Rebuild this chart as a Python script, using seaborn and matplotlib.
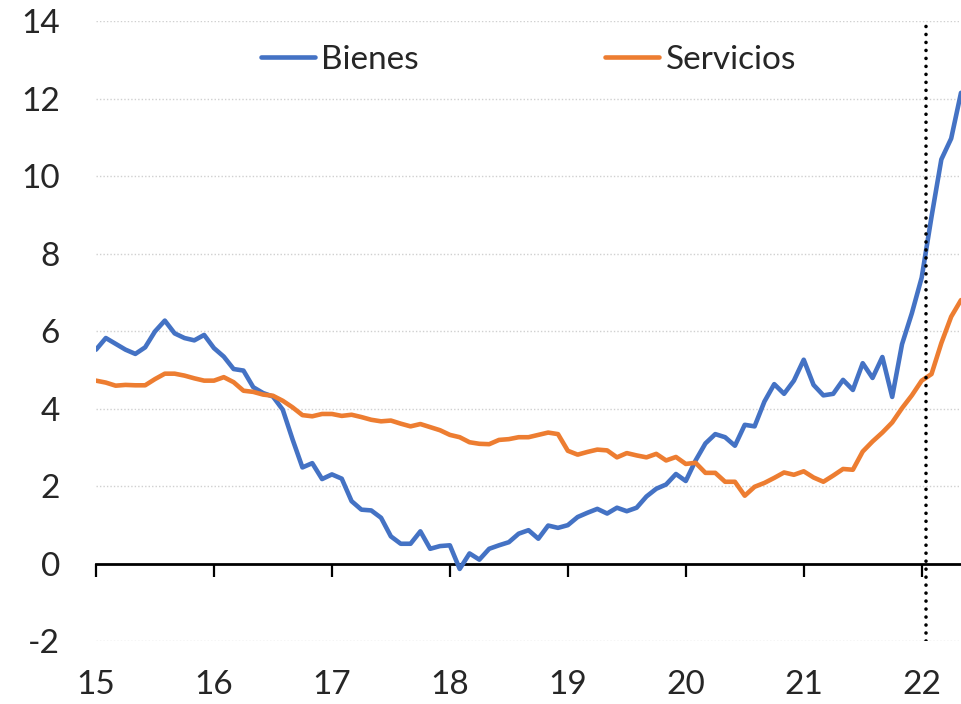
import pandas as pd
import numpy as np
import matplotlib
matplotlib.use("Agg")
import matplotlib.pyplot as plt
import seaborn as sns

# monthly, Jan 2015 .. May 2022
bienes = [5.52, 5.82, 5.67, 5.52, 5.41, 5.58, 5.99, 6.27, 5.94, 5.82, 5.76, 5.90,
          5.56, 5.34, 5.02, 4.98, 4.55, 4.40, 4.31, 3.97, 3.20, 2.48, 2.59, 2.18,
          2.30, 2.19, 1.61, 1.39, 1.37, 1.18, 0.70, 0.51, 0.51, 0.83, 0.38, 0.45,
          0.47, -0.14, 0.26, 0.10, 0.38, 0.47, 0.55, 0.77, 0.86, 0.64, 0.98, 0.92,
          0.99, 1.20, 1.31, 1.41, 1.29, 1.44, 1.35, 1.44, 1.73, 1.93, 2.04, 2.31,
          2.13, 2.66, 3.10, 3.34, 3.26, 3.04, 3.58, 3.54, 4.18, 4.63, 4.38, 4.72,
          5.26, 4.61, 4.34, 4.38, 4.74, 4.48, 5.17, 4.79, 5.33, 4.30, 5.66, 6.46,
          7.38, 8.95, 10.43, 10.97, 12.15]
servicios = [4.72, 4.67, 4.59, 4.61, 4.60, 4.60, 4.76, 4.90, 4.90, 4.85, 4.78, 4.72,
             4.72, 4.81, 4.68, 4.46, 4.43, 4.36, 4.33, 4.20, 4.03, 3.83, 3.80, 3.86,
             3.86, 3.81, 3.84, 3.78, 3.71, 3.67, 3.69, 3.61, 3.54, 3.60, 3.52, 3.44,
             3.32, 3.26, 3.13, 3.09, 3.08, 3.19, 3.21, 3.26, 3.26, 3.32, 3.38, 3.34,
             2.91, 2.81, 2.88, 2.94, 2.92, 2.74, 2.85, 2.79, 2.74, 2.83, 2.66, 2.75,
             2.57, 2.60, 2.34, 2.34, 2.11, 2.11, 1.75, 1.98, 2.08, 2.21, 2.35, 2.29,
             2.38, 2.22, 2.11, 2.27, 2.44, 2.42, 2.89, 3.15, 3.38, 3.64, 4.01, 4.34,
             4.72, 4.89, 5.69, 6.37, 6.80]
year_labels = ["15", "16", "17", "18", "19", "20", "21", "22"]
y_ticks = [-2, 0, 2, 4, 6, 8, 10, 12, 14]
marker_month = 84.4  # vertical dotted line, early 2022

months = np.arange(len(bienes))
df = pd.DataFrame({
    "mes": np.concatenate([months, months]),
    "valor": bienes + servicios,
    "serie": ["Bienes"] * len(bienes) + ["Servicios"] * len(servicios),
})

sns.set_style("white")
plt.rcParams["font.family"] = ["Lato", "DejaVu Sans"]

fig = plt.figure(figsize=(9.61, 7.04), dpi=100)
ax = fig.add_axes([0.0999, 0.0895, 0.9001, 0.8805])

sns.lineplot(data=df, x="mes", y="valor", hue="serie",
             palette={"Bienes": "#4472C4", "Servicios": "#ED7D31"},
             linewidth=3.3, ax=ax)

ax.set_xlim(0, 88)
ax.set_ylim(-2, 14)
ax.set_xlabel("")
ax.set_ylabel("")

# grid (no line at 0, that is the axis)
for v in y_ticks:
    if v != 0:
        ax.axhline(v, color="#D0D0D0", linestyle=(0, (1, 1.5)), linewidth=1.0, zorder=0)

ax.set_yticks(y_ticks)
ax.set_yticklabels([str(v) for v in y_ticks])
ax.tick_params(axis="y", length=0, pad=26, labelsize=24)

ax.set_xticks(months[::12][:len(year_labels)])
ax.set_xticklabels(year_labels)
ax.tick_params(axis="x", length=0, pad=21, labelsize=24)

for s in ["top", "right", "left", "bottom"]:
    ax.spines[s].set_visible(False)

# axis line at zero with tick marks
sec = ax.secondary_xaxis(2 / 16)
sec.set_xticks(months[::12][:len(year_labels)])
sec.set_xticklabels([])
sec.tick_params(axis="x", direction="out", length=9, width=1.6, color="black")
sec.spines["bottom"].set_linewidth(2.0)
sec.spines["bottom"].set_color("black")

ax.axvline(marker_month, color="black", linestyle=(0, (0.01, 2.2)), linewidth=2.6,
           dash_capstyle="round", zorder=5)

ax.legend(loc="upper center", bbox_to_anchor=(0.5, 1.01), ncol=2, frameon=False,
          fontsize=24, handlelength=1.6, handletextpad=0.2, columnspacing=5.6)

fig.savefig("out.png", dpi=100)
